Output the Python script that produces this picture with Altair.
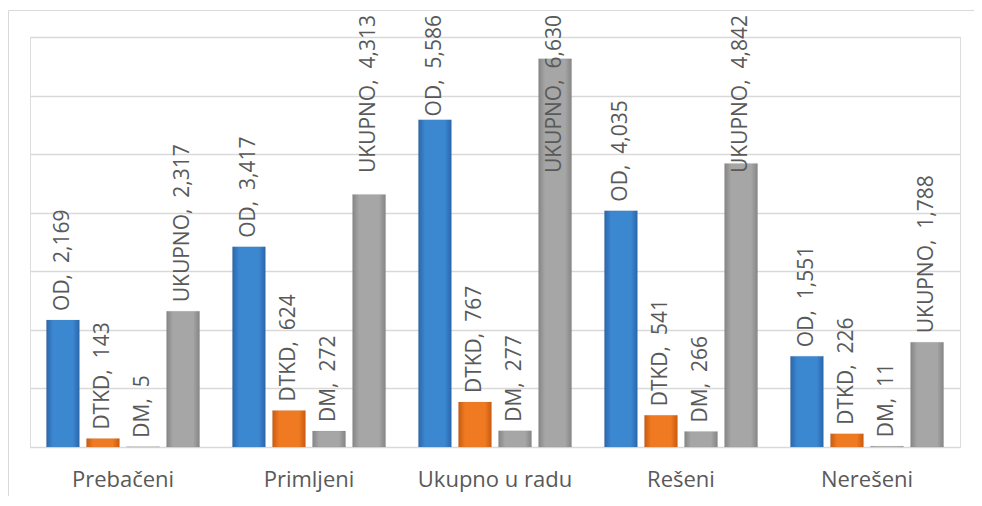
import altair as alt
import pandas as pd

categories = ["Prebačeni", "Primljeni", "Ukupno u radu", "Rešeni", "Nerešeni"]
series = ["OD", "DTKD", "DM", "UKUPNO"]
od = [2169, 3417, 5586, 4035, 1551]
dtkd = [143, 624, 767, 541, 226]
dm = [5, 272, 277, 266, 11]
ukupno = [2317, 4313, 6630, 4842, 1788]

values = {"OD": od, "DTKD": dtkd, "DM": dm, "UKUPNO": ukupno}
rows = []
for s in series:
    for c, v in zip(categories, values[s]):
        rows.append({"cat": c, "series": s, "value": v,
                     "label": f"{s},\u00a0 {v:,}"})
df = pd.DataFrame(rows)

FONT = "Open Sans"
TXT = "#595959"

def grad(edge, center):
    return alt.Gradient(
        gradient="linear", x1=0, x2=1, y1=0, y2=0,
        stops=[alt.GradientStop(color=edge, offset=0),
               alt.GradientStop(color=center, offset=0.2),
               alt.GradientStop(color=center, offset=0.8),
               alt.GradientStop(color=edge, offset=1)])

fills = {
    "OD": grad("#2a66ab", "#3b87d0"),
    "DTKD": grad("#c95a0e", "#f07a22"),
    "DM": grad("#858585", "#a6a6a6"),
    "UKUPNO": grad("#858585", "#a6a6a6"),
}

x_enc = alt.X("cat:N", sort=categories,
              scale=alt.Scale(paddingInner=0, paddingOuter=0),
              axis=alt.Axis(title=None, labelAngle=0, labelFont=FONT, labelFontSize=22,
                            labelColor=TXT, ticks=False, domain=False, labelPadding=22))
xo_enc = alt.XOffset("series:N", sort=series,
                     scale=alt.Scale(domain=series, paddingInner=0.175, paddingOuter=0.41))
y_enc = alt.Y("value:Q", scale=alt.Scale(domain=[0, 7000], nice=False),
              axis=alt.Axis(title=None, labels=False, ticks=False, domain=False,
                            values=list(range(0, 7001, 1000)), gridColor="#d9d9d9",
                            gridWidth=1.5))

base = alt.Chart(df)
layers = []
for s in series:
    layers.append(
        base.transform_filter(alt.datum.series == s)
        .mark_bar(color=fills[s], stroke="#7f7f7f", strokeOpacity=0.25, strokeWidth=0.5)
        .encode(x=x_enc, xOffset=xo_enc, y=y_enc)
    )

# labels that fit above their bars
text = base.transform_filter(alt.datum.value <= 4200).mark_text(
    angle=270, align="left", baseline="middle", dx=9,
    font=FONT, fontSize=21, color=TXT).encode(
    x=x_enc, xOffset=xo_enc, y=y_enc, text="label:N")

# labels that would run past the top are kept inside the chart (as in the original)
text_top = base.transform_filter(alt.datum.value > 4200).mark_text(
    angle=270, align="right", baseline="middle",
    font=FONT, fontSize=21, color=TXT).encode(
    x=x_enc, xOffset=xo_enc, y=alt.value(-22), text="label:N")

border = alt.Chart(pd.DataFrame({"a": [0]})).mark_rect(
    fill=None, stroke="#d9d9d9", strokeWidth=1).encode(
    x=alt.value(-21.5), x2=alt.value(1000), y=alt.value(-26.5), y2=alt.value(800))

chart = alt.layer(border, *layers, text, text_top).properties(
    width=930, height=410,
    autosize=alt.AutoSizeParams(type="none"),
    padding={"left": 22, "top": 29, "right": 14, "bottom": 49},
).configure_view(stroke=None).configure(background="white")

chart.save("out.html", embed_options={"renderer": "svg", "actions": False})
